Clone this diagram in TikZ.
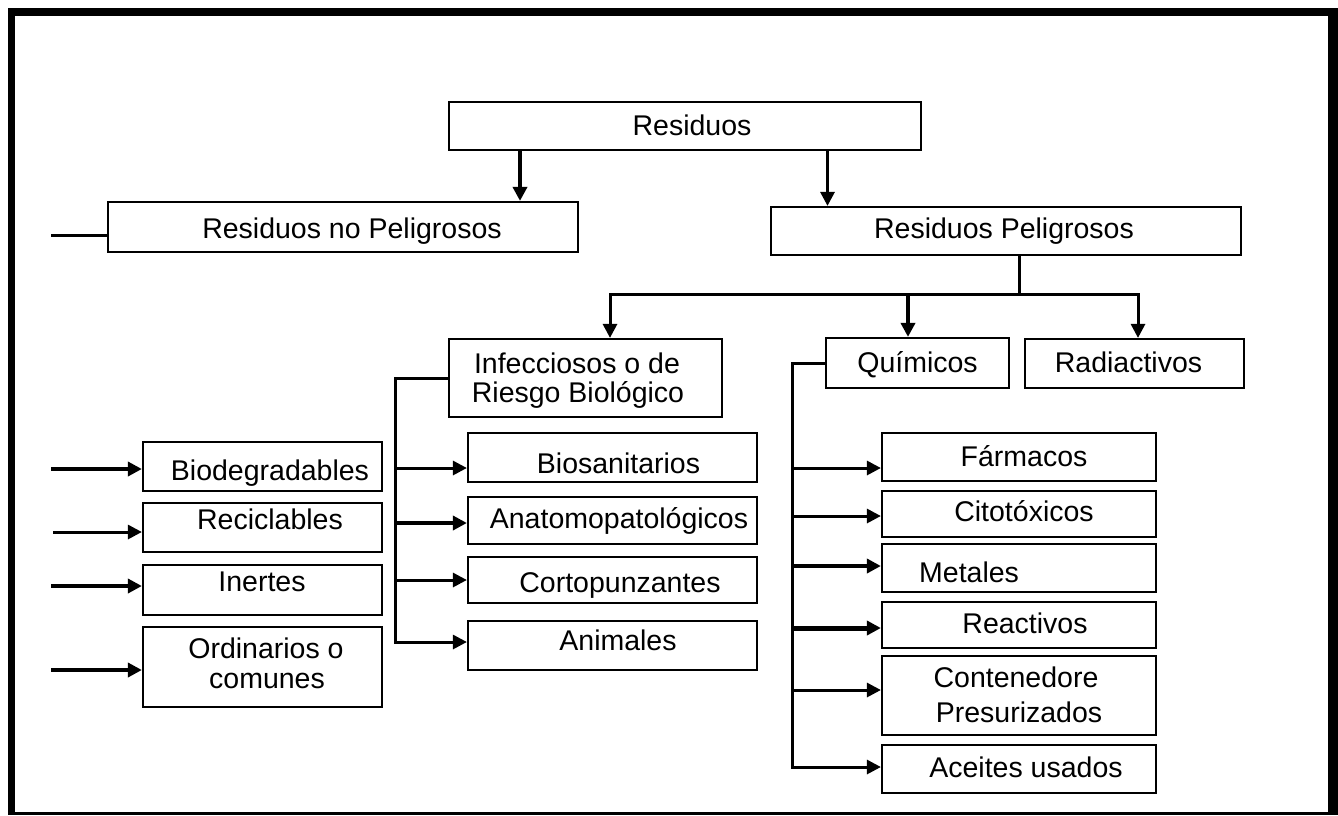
\documentclass[tikz,border=0pt]{standalone}
\usepackage{fontspec}
\setmainfont{Liberation Sans}
\usetikzlibrary{arrows.meta,calc}
\begin{document}
\begin{tikzpicture}[x=1pt,y=-1pt,
  box/.style={draw, line width=2.2pt, rectangle, inner sep=0pt, align=center,
    font=\fontsize{28.5}{30}\selectfont},
  lbl/.style={inner sep=0pt, font=\fontsize{28.5}{30}\selectfont, anchor=base},
  conn/.style={line width=3pt},
  arr/.style={line width=3pt, -{Triangle[length=14pt,width=14pt]}}
]
\useasboundingbox (0,0) rectangle (1338,815);
% frame
\draw[line width=7pt] (11.5,8) -- (11.5,815);
\draw[line width=8pt] (8,12) -- (1338,12);
\draw[line width=10pt] (1333,8) -- (1333,815);
\draw[line width=3pt] (8,813) -- (1338,813);

% top level
\node[box, minimum width=472pt, minimum height=48.3pt] (res) at (685,126) {};
\node[lbl] (rest) at (692,135) {Residuos};
\node[box, minimum width=470pt, minimum height=50pt] (noP) at (343,227) {};
\node[lbl] (noPt) at (352,238) {Residuos no Peligrosos};
\node[box, minimum width=470pt, minimum height=48pt] (pel) at (1006,231) {};
\node[lbl] (pelt) at (1004,238) {Residuos Peligrosos};

% second level
\node[box, minimum width=273pt, minimum height=78pt] (inf) at (585.5,378) {};
\node[lbl] (inft) at (577,373) {Infecciosos o de};
\node[lbl] (inft2) at (578,402) {Riesgo Biológico};
\node[box, minimum width=183pt, minimum height=50pt] (quim) at (917.5,363) {};
\node[lbl] (quimt) at (917.5,372) {Químicos};
\node[box, minimum width=219pt, minimum height=49pt] (rad) at (1134.5,363.5) {};
\node[lbl] (radt) at (1128.5,372) {Radiactivos};

% left column
\node[box, minimum width=239pt, minimum height=49pt] (bio) at (262.5,466.5) {};
\node[lbl] (biot) at (270,480) {Biodegradables};
\node[box, minimum width=239pt, minimum height=49pt] (rec) at (262.5,527.5) {};
\node[lbl] (rect) at (270,529) {Reciclables};
\node[box, minimum width=239pt, minimum height=50pt] (ine) at (262.5,590) {};
\node[lbl] (inet) at (262,591) {Inertes};
\node[box, minimum width=239pt, minimum height=80pt] (ord) at (262.5,667) {};
\node[lbl] (ordt) at (266,658) {Ordinarios o};
\node[lbl] (ordt2) at (267,688) {comunes};

% infecciosos children
\node[box, minimum width=289pt, minimum height=49pt] (bios) at (612.5,457.5) {};
\node[lbl] (biost) at (618.5,473) {Biosanitarios};
\node[box, minimum width=289pt, minimum height=47pt] (anat) at (612.5,520.5) {};
\node[lbl] (anatt) at (619,528) {Anatomopatológicos};
\node[box, minimum width=289pt, minimum height=46pt] (cort) at (612.5,580) {};
\node[lbl] (cortt) at (620,592) {Cortopunzantes};
\node[box, minimum width=289pt, minimum height=49pt] (anim) at (612.5,645.5) {};
\node[lbl] (animt) at (618,650) {Animales};

% quimicos children
\node[box, minimum width=274pt, minimum height=48pt] (farm) at (1019,457) {};
\node[lbl] (farmt) at (1024,466) {Fármacos};
\node[box, minimum width=274pt, minimum height=46pt] (cito) at (1019,514) {};
\node[lbl] (citot) at (1024,521) {Citotóxicos};
\node[box, minimum width=274pt, minimum height=48pt] (meta) at (1019,568) {};
\node[lbl, anchor=base west] (metat) at (919,582) {Metales};
\node[box, minimum width=274pt, minimum height=46pt] (reac) at (1019,625) {};
\node[lbl] (react) at (1025,633) {Reactivos};
\node[box, minimum width=274pt, minimum height=79pt] (cont) at (1019,695.5) {};
\node[lbl] (contt) at (1016,687) {Contenedore};
\node[lbl] (contt2) at (1019,722) {Presurizados};
\node[box, minimum width=274pt, minimum height=48pt] (acei) at (1019,769) {};
\node[lbl] (aceit) at (1026,777) {Aceites usados};

% coordinates
\coordinate (xa) at (520,0);
\coordinate (xb) at (827.5,0);
\coordinate (npstub) at (51,235);
\coordinate (bus) at (1019.5,294.5);
\coordinate (busL) at (610,294.5);
\coordinate (busM) at (908,294.5);
\coordinate (busR) at (1138,294.5);
\coordinate (infc) at (395,378);
\coordinate (quimc) at (792,363);

% connectors top
\draw[arr, line width=4pt] (res.south -| xa) -- (noP.north -| xa);
\draw[arr] (res.south -| xb) -- (pel.north -| xb);
\draw[conn] (npstub) -- (npstub -| noP.west);
\draw[conn] (pel.south -| bus) -- (bus);
\draw[conn, line cap=rect] (busL) -- (busR);
\draw[arr] (busL) -- (inf.north -| busL);
\draw[arr, line width=4.5pt] (busM) -- (quim.north -| busM);
\draw[arr] (busR) -- (rad.north -| busR);

% left arrows
\draw[arr, line width=3.5pt] (51,469) -- (bio.west |- 0,469);
\draw[arr] (53,532) -- (rec.west |- 0,532);
\draw[arr, line width=3.5pt] (51,586) -- (ine.west |- 0,586);
\draw[arr, line width=4pt] (51,670) -- (ord.west |- 0,670);

% infecciosos bracket
\draw[conn, line cap=rect] (inf.west |- infc) -- (infc) -- (395,642);
\draw[arr] (395,468) -- (bios.west |- 0,468);
\draw[arr, line width=3.5pt] (395,523) -- (anat.west |- 0,523);
\draw[arr] (395,580) -- (cort.west |- 0,580);
\draw[arr] (395,642) -- (anim.west |- 0,642);

% quimicos bracket
\draw[conn, line cap=rect] (quim.west |- quimc) -- (quimc) -- (792,767);
\draw[arr] (792,468) -- (farm.west |- 0,468);
\draw[arr] (792,516) -- (cito.west |- 0,516);
\draw[arr, line width=3.5pt] (792,566) -- (meta.west |- 0,566);
\draw[arr, line width=5pt] (792,628) -- (reac.west |- 0,628);
\draw[arr] (792,690) -- (cont.west |- 0,690);
\draw[arr] (792,767) -- (acei.west |- 0,767);
\end{tikzpicture}
\end{document}
